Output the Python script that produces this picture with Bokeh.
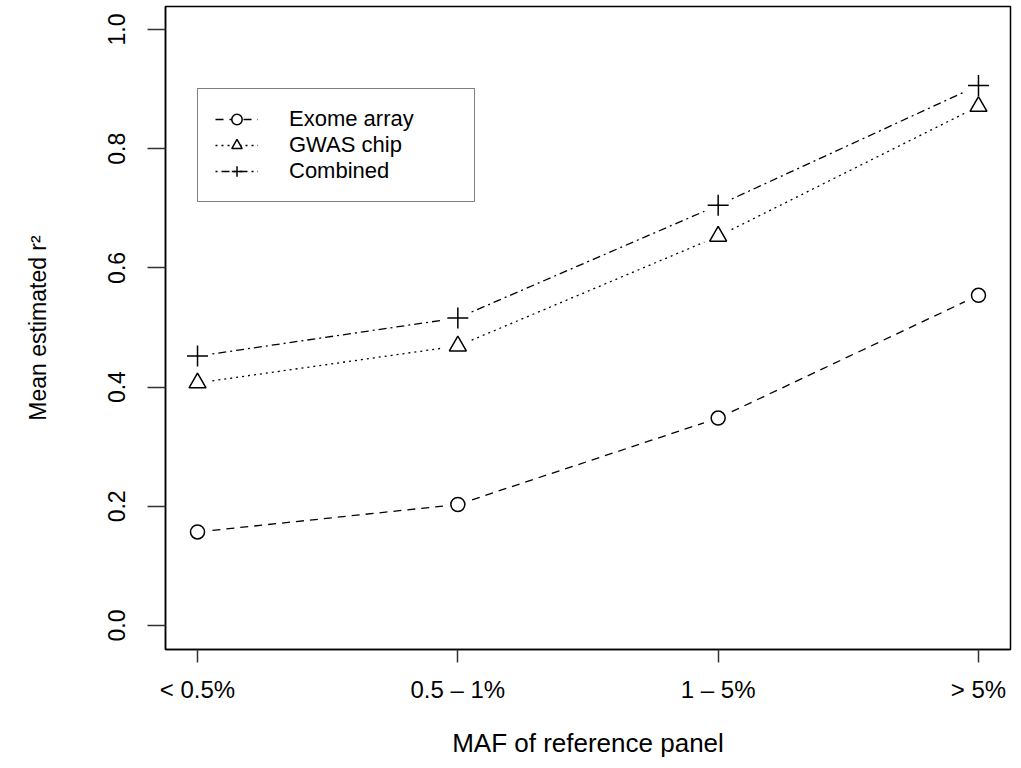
import math
from bokeh.plotting import figure
from bokeh.models import (FixedTicker, PrintfTickFormatter, Legend, LegendItem,
                          ColumnDataSource, Range1d)
from bokeh.embed import file_html
from bokeh.resources import INLINE

# ---- data ----
categories = ["< 0.5%", "0.5 \u2013 1%", "1 \u2013 5%", "> 5%"]
x_pos = [1, 2, 3, 4]
exome = [0.157, 0.203, 0.348, 0.554]
gwas = [0.407, 0.469, 0.653, 0.871]
combined = [0.452, 0.516, 0.705, 0.906]
series_names = ["Exome array", "GWAS chip", "Combined"]
y_ticks = [0.0, 0.2, 0.4, 0.6, 0.8, 1.0]

FONT = "Liberation Sans"

# ---- layout ----
FRAME_W, FRAME_H = 845, 644
X0, X1 = 0.877, 4.123
Y0, Y1 = -0.0402, 1.0385
ML, MR, MT, MB = 165, 6, 6, 110

p = figure(width=ML + FRAME_W + MR, height=MT + FRAME_H + MB,
           x_range=Range1d(X0, X1), y_range=Range1d(Y0, Y1),
           output_backend="svg", toolbar_location=None,
           min_border_left=ML, min_border_right=MR,
           min_border_top=MT, min_border_bottom=MB)
p.background_fill_color = "white"
p.border_fill_color = "white"
p.outline_line_color = "black"
p.outline_line_width = 1.5
p.xgrid.visible = False
p.ygrid.visible = False

# axes
p.xaxis.ticker = FixedTicker(ticks=x_pos)
p.xaxis.major_label_overrides = {x: c for x, c in zip(x_pos, categories)}
p.yaxis.ticker = FixedTicker(ticks=y_ticks)
p.yaxis.formatter = PrintfTickFormatter(format="%.1f")
p.yaxis.major_label_orientation = "vertical"
for ax in (p.xaxis, p.yaxis):
    ax.axis_line_color = "black"
    ax.axis_line_width = 1.5
    ax.major_tick_line_color = "#333333"
    ax.major_tick_line_width = 1.5
    ax.major_tick_in = 0
    ax.minor_tick_line_color = None
    ax.major_label_text_font = FONT
    ax.major_label_text_color = "black"
    ax.axis_label_text_font = FONT
    ax.axis_label_text_font_style = "normal"
    ax.axis_label_text_color = "black"
p.xaxis.major_tick_out = 13
p.yaxis.major_tick_out = 18
p.xaxis.major_label_text_font_size = "24px"
p.yaxis.major_label_text_font_size = "23px"
p.xaxis.major_label_standoff = 13
p.yaxis.major_label_standoff = 22
p.xaxis.axis_label = "MAF of reference panel"
p.yaxis.axis_label = "Mean estimated r\u00b2"
p.xaxis.axis_label_text_font_size = "26px"
p.yaxis.axis_label_text_font_size = "23px"
p.xaxis.axis_label_standoff = 22
p.yaxis.axis_label_standoff = 55

# ---- gapped lines (like R type="b") ----
SX = FRAME_W / (X1 - X0)
SY = FRAME_H / (Y1 - Y0)
GAP = 15


def gapped(xs, ys, gap=GAP):
    x0s, y0s, x1s, y1s = [], [], [], []
    for i in range(len(xs) - 1):
        dxp = (xs[i + 1] - xs[i]) * SX
        dyp = (ys[i + 1] - ys[i]) * SY
        L = math.hypot(dxp, dyp)
        fx, fy = dxp / L * gap / SX, dyp / L * gap / SY
        x0s.append(xs[i] + fx); y0s.append(ys[i] + fy)
        x1s.append(xs[i + 1] - fx); y1s.append(ys[i + 1] - fy)
    return ColumnDataSource(dict(x0=x0s, y0=y0s, x1=x1s, y1=y1s))


styles = [
    (exome, "8 6", "circle", 14),
    (gwas, "2 4", "triangle", 17),
    (combined, "2 4 8 4", "cross", 21),
]
items = []
for (vals, dash, marker, size), name in zip(styles, series_names):
    seg = p.segment("x0", "y0", "x1", "y1", source=gapped(x_pos, vals),
                    line_color="black", line_width=1.3, line_dash=dash)
    sc = p.scatter(x_pos, vals, marker=marker, size=size,
                   fill_color="white", line_color="black", line_width=1.5)
    items.append(LegendItem(label=name, renderers=[seg, sc]))

legend = Legend(items=items, location=(32, 447),
                border_line_color="black", border_line_width=1.3,
                background_fill_color="white", background_fill_alpha=1,
                padding=17, spacing=0, margin=0,
                glyph_width=43, glyph_height=26, label_height=26,
                label_width=168, label_standoff=31,
                label_text_font=FONT, label_text_font_size="22px",
                label_text_color="black")
p.add_layout(legend, "center")

open("out.html", "w").write(file_html(p, INLINE))
